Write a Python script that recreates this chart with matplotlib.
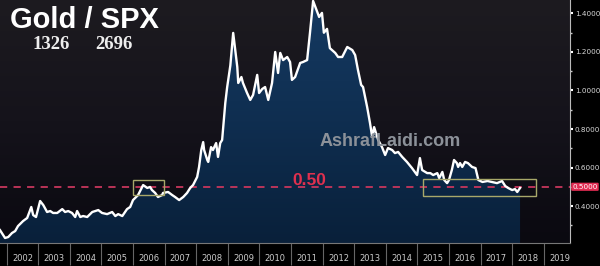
import numpy as np
import matplotlib
matplotlib.use('Agg')
import matplotlib.pyplot as plt
from matplotlib.colors import LinearSegmentedColormap
from matplotlib.patches import Rectangle, PathPatch
from matplotlib.path import Path

# Gold / SPX ratio (decimal years, ratio)
years = [2001.79, 2001.95, 2002.05, 2002.17, 2002.27, 2002.36, 2002.52, 2002.65, 2002.78, 2002.84,
         2002.93, 2003.06, 2003.16, 2003.28, 2003.38, 2003.47, 2003.60, 2003.76, 2003.85, 2003.95,
         2004.07, 2004.17, 2004.23, 2004.33, 2004.42, 2004.55, 2004.71, 2004.90, 2005.02, 2005.18,
         2005.34, 2005.44, 2005.53, 2005.66, 2005.81, 2005.91, 2006.00, 2006.16, 2006.32, 2006.45,
         2006.54, 2006.60, 2006.70, 2006.79, 2006.92, 2006.95, 2007.11, 2007.24, 2007.33, 2007.46,
         2007.59, 2007.71, 2007.81, 2007.90, 2008.03, 2008.09, 2008.16, 2008.22, 2008.25, 2008.35,
         2008.38, 2008.47, 2008.53, 2008.63, 2008.69, 2008.76, 2008.82, 2008.92, 2008.98, 2009.08,
         2009.17, 2009.30, 2009.33, 2009.43, 2009.48, 2009.61, 2009.71, 2009.80, 2009.93, 2009.99,
         2010.09, 2010.18, 2010.28, 2010.40, 2010.50, 2010.59, 2010.66, 2010.75, 2010.88, 2010.97,
         2011.03, 2011.13, 2011.29, 2011.38, 2011.51, 2011.60, 2011.70, 2011.83, 2011.89, 2011.98,
         2012.04, 2012.14, 2012.23, 2012.40, 2012.49, 2012.62, 2012.78, 2012.94, 2013.03, 2013.12,
         2013.22, 2013.28, 2013.41, 2013.50, 2013.57, 2013.63, 2013.76, 2013.88, 2013.98, 2014.07,
         2014.20, 2014.29, 2014.39, 2014.52, 2014.67, 2014.83, 2014.99, 2015.08, 2015.15, 2015.31,
         2015.41, 2015.50, 2015.63, 2015.69, 2015.79, 2015.85, 2015.94, 2016.00, 2016.09, 2016.16,
         2016.25, 2016.29, 2016.35, 2016.42, 2016.51, 2016.60, 2016.73, 2016.84, 2016.93, 2017.06,
         2017.22, 2017.36, 2017.52, 2017.68, 2017.78, 2017.87, 2018.00, 2018.09, 2018.16, 2018.25]
ratio = [0.275, 0.234, 0.239, 0.260, 0.270, 0.296, 0.322, 0.338, 0.395, 0.353,
         0.343, 0.426, 0.405, 0.369, 0.374, 0.364, 0.364, 0.384, 0.369, 0.374,
         0.364, 0.343, 0.374, 0.343, 0.348, 0.343, 0.369, 0.379, 0.364, 0.358,
         0.369, 0.348, 0.358, 0.348, 0.384, 0.395, 0.431, 0.457, 0.509, 0.494,
         0.499, 0.483, 0.468, 0.447, 0.457, 0.468, 0.473, 0.457, 0.447, 0.431,
         0.447, 0.468, 0.494, 0.509, 0.551, 0.603, 0.691, 0.732, 0.691, 0.639,
         0.629, 0.706, 0.691, 0.727, 0.655, 0.727, 0.743, 0.935, 1.018, 1.130,
         1.299, 1.122, 1.039, 1.070, 1.039, 0.987, 0.951, 0.977, 1.081, 0.987,
         1.008, 1.018, 0.951, 1.039, 1.200, 1.091, 1.195, 1.158, 1.174, 1.148,
         1.055, 1.070, 1.143, 1.148, 1.158, 1.299, 1.465, 1.408, 1.382, 1.403,
         1.300, 1.320, 1.220, 1.195, 1.174, 1.174, 1.226, 1.210, 1.184, 1.106,
         1.029, 1.018, 0.914, 0.831, 0.758, 0.810, 0.743, 0.706, 0.665, 0.701,
         0.691, 0.675, 0.681, 0.655, 0.629, 0.597, 0.561, 0.649, 0.587, 0.571,
         0.571, 0.561, 0.571, 0.545, 0.577, 0.535, 0.519, 0.535, 0.587, 0.639,
         0.623, 0.603, 0.623, 0.603, 0.629, 0.623, 0.603, 0.597, 0.535, 0.525,
         0.530, 0.525, 0.519, 0.530, 0.504, 0.494, 0.483, 0.488, 0.473, 0.494]

year_labels = [str(y) for y in range(2002, 2020)]
y_ticks = [0.4, 0.6, 0.8, 1.0, 1.2, 1.4]
level = 0.50
gold_px = '1326'
spx_px = '2696'

xmin, xmax = 2001.79, 2019.83
ymin, ymax = 0.208, 1.47

fig = plt.figure(figsize=(6, 2.66), dpi=100)
fig.patch.set_facecolor('black')
ax = fig.add_axes([0, 23 / 266, 570 / 600, 243 / 266])
ax.set_xlim(xmin, xmax)
ax.set_ylim(ymin, ymax)

# background gradient
grad = np.linspace(0, 1, 256).reshape(-1, 1)
bg_cmap = LinearSegmentedColormap.from_list('bg', ['#0a0910', '#15131b', '#1d1b20'])
ax.imshow(grad, extent=[xmin, xmax, ymin, ymax], origin='lower', aspect='auto',
          cmap=bg_cmap, zorder=0)

# area fill with gradient
verts = [(years[0], ymin)] + list(zip(years, ratio)) + [(years[-1], ymin), (years[0], ymin)]
path = Path(verts)
patch = PathPatch(path, facecolor='none', edgecolor='none')
ax.add_patch(patch)
fill_cmap = LinearSegmentedColormap.from_list('fill', ['#09203a', '#0f2e50', '#153a62'])
im = ax.imshow(grad, extent=[xmin, xmax, ymin, ymax], origin='lower', aspect='auto',
               cmap=fill_cmap, zorder=1)
im.set_clip_path(patch)

ax.plot(years, ratio, color='white', lw=1.7, zorder=3)

ax.axhline(level, color='#c8365c', lw=1.3, ls=(0, (4, 3.5)), zorder=2)

ax.add_patch(Rectangle((2006.0, 0.457), 0.98, 0.078, fill=False, ec='#a8a86a', lw=1, zorder=4))
ax.add_patch(Rectangle((2015.18, 0.452), 3.58, 0.088, fill=False, ec='#a8a86a', lw=1, zorder=4))

# axes styling
for s in ['left', 'top']:
    ax.spines[s].set_visible(False)
ax.spines['right'].set_color('#bbbbbb')
ax.spines['bottom'].set_color('#777777')

ax.yaxis.tick_right()
ax.set_yticks(y_ticks)
ax.set_yticklabels(['%.4f' % v for v in y_ticks])
ax.set_yticks([0.3, 0.5, 0.7, 0.9, 1.1, 1.3], minor=True)
ax.tick_params(axis='y', which='major', direction='out', length=2.5, width=1.5,
               colors='white', labelsize=5.2, labelcolor='#d8d8d8', pad=1)
ax.tick_params(axis='y', which='minor', direction='out', length=1.5, width=1, colors='#cccccc')

ax.set_xticks(range(2002, 2020))
ax.set_xticklabels([])
ax.set_xticks([y + 0.5 for y in range(2002, 2020)], minor=True)
ax.set_xticklabels(year_labels, minor=True)
ax.tick_params(axis='x', which='major', direction='out', length=16, width=0.8, colors='#666666')
ax.tick_params(axis='x', which='minor', length=0, labelsize=6, labelcolor='#cccccc', pad=8)

ax.text(1.004, level, '0.5000', transform=ax.get_yaxis_transform(), fontsize=5.2,
        color='white', va='center', ha='left',
        bbox=dict(boxstyle='round,pad=0.15', fc='#e02c52', ec='none'), zorder=5)

fig.text(10 / 600, 1 - 28 / 266, 'Gold / SPX', fontsize=21, fontweight='bold',
         family='Liberation Sans', color='white', va='baseline')
fig.text(33 / 600, 1 - 49 / 266, gold_px, fontsize=13.5, fontweight='bold',
         family='Liberation Serif', color='#eeeeee', va='baseline')
fig.text(95 / 600, 1 - 49 / 266, spx_px, fontsize=13.5, fontweight='bold',
         family='Liberation Serif', color='#eeeeee', va='baseline')
fig.text(390 / 600, 1 - 142 / 266, 'AshrafLaidi.com', fontsize=13, fontweight='bold',
         family='Liberation Sans', color='#8c9199', ha='center', va='center', zorder=6)
fig.text(292 / 600, 1 - 185 / 266, '0.50', fontsize=12.5, fontweight='bold',
         family='Liberation Sans', color='#e0304e', va='baseline')

fig.savefig('out.png', dpi=100, facecolor='black')
